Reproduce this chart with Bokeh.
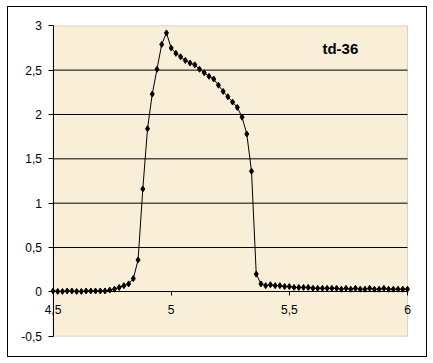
from bokeh.plotting import figure
from bokeh.models import Range1d, FixedTicker, Label, BoxAnnotation
from bokeh.embed import file_html
from bokeh.resources import INLINE

title_text = "td-36"

x_vals = [4.50, 4.52, 4.54, 4.56, 4.58, 4.60, 4.62, 4.64, 4.66, 4.68,
          4.70, 4.72, 4.74, 4.76, 4.78, 4.80, 4.82, 4.84, 4.86, 4.88,
          4.90, 4.92, 4.94, 4.96, 4.98, 5.00, 5.02, 5.04, 5.06, 5.08,
          5.10, 5.12, 5.14, 5.16, 5.18, 5.20, 5.22, 5.24, 5.26, 5.28,
          5.30, 5.32, 5.34, 5.36, 5.38, 5.40, 5.42, 5.44, 5.46, 5.48,
          5.50, 5.52, 5.54, 5.56, 5.58, 5.60, 5.62, 5.64, 5.66, 5.68,
          5.70, 5.72, 5.74, 5.76, 5.78, 5.80, 5.82, 5.84, 5.86, 5.88,
          5.90, 5.92, 5.94, 5.96, 5.98, 6.00]

y_vals = [0.01, 0.005, 0.005, 0.01, 0.01, 0.005, 0.005, 0.01, 0.01, 0.01,
          0.01, 0.01, 0.02, 0.03, 0.05, 0.07, 0.09, 0.15, 0.36, 1.16,
          1.84, 2.23, 2.51, 2.79, 2.92, 2.75, 2.69, 2.65, 2.61, 2.58,
          2.56, 2.51, 2.47, 2.43, 2.40, 2.33, 2.26, 2.20, 2.14, 2.08,
          1.97, 1.78, 1.36, 0.20, 0.09, 0.07, 0.08, 0.07, 0.07, 0.06,
          0.06, 0.05, 0.05, 0.05, 0.05, 0.04, 0.04, 0.04, 0.04, 0.04,
          0.04, 0.03, 0.04, 0.03, 0.04, 0.03, 0.03, 0.04, 0.03, 0.03,
          0.04, 0.03, 0.03, 0.03, 0.03, 0.03]

x_ticks = [4.5, 5.0, 5.5, 6.0]
x_tick_labels = ["4,5", "5", "5,5", "6"]
y_ticks = [-0.5, 0.0, 0.5, 1.0, 1.5, 2.0, 2.5, 3.0]
y_tick_labels = ["-0,5", "0", "0,5", "1", "1,5", "2", "2,5", "3"]

FONT = "Liberation Sans"

x_min, x_max = x_ticks[0], x_ticks[-1]
y_min, y_max = y_ticks[0], y_ticks[-1]

# frame covers the whole chart area; the plot area is drawn as a box inside it
p = figure(width=420, height=351, output_backend="svg", toolbar_location=None,
           x_range=Range1d(4.3117, 6.0889), y_range=Range1d(-0.7514, 3.2063),
           min_border=0, min_border_left=0, min_border_right=0,
           min_border_top=0, min_border_bottom=0)

p.background_fill_color = "white"
p.border_fill_color = "white"
p.outline_line_color = None
p.styles = {"border": "1px solid black", "margin-left": "7px",
            "margin-top": "6px"}
p.xgrid.visible = False
p.ygrid.visible = False

p.add_layout(BoxAnnotation(left=x_min, right=x_max, bottom=y_min, top=y_max,
                           fill_color="#F9EFD8", fill_alpha=1.0,
                           line_color="#808080", line_width=1,
                           level="underlay"))

# horizontal gridlines across the plot area only
grid_ys = [t for t in y_ticks if y_min < t < y_max and t != 0]
p.segment(x0=[x_min] * len(grid_ys), x1=[x_max] * len(grid_ys),
          y0=grid_ys, y1=grid_ys, line_color="black", line_width=1)

# y axis at x = 4.5
p.yaxis.fixed_location = x_min
p.yaxis.bounds = (y_min, y_max)
p.yaxis.ticker = FixedTicker(ticks=y_ticks)
p.yaxis.major_label_overrides = {t: s for t, s in zip(y_ticks, y_tick_labels)}
p.yaxis.axis_line_color = "black"
p.yaxis.major_tick_line_color = "black"
p.yaxis.major_tick_in = 0
p.yaxis.major_tick_out = 5
p.yaxis.minor_tick_line_color = None
p.yaxis.major_label_standoff = 6
p.yaxis.major_label_text_font = FONT
p.yaxis.major_label_text_font_size = "12px"
p.yaxis.major_label_text_color = "black"

# x axis at y = 0
p.xaxis.fixed_location = 0
p.xaxis.bounds = (x_min, x_max)
p.xaxis.ticker = FixedTicker(ticks=x_ticks)
p.xaxis.major_label_overrides = {t: s for t, s in zip(x_ticks, x_tick_labels)}
p.xaxis.axis_line_color = "black"
p.xaxis.major_tick_line_color = "black"
p.xaxis.major_tick_in = 0
p.xaxis.major_tick_out = 4
p.xaxis.minor_tick_line_color = None
p.xaxis.major_label_standoff = 9
p.xaxis.major_label_text_font = FONT
p.xaxis.major_label_text_font_size = "12px"
p.xaxis.major_label_text_color = "black"

p.line(x_vals, y_vals, line_color="black", line_width=1)
p.scatter(x_vals, y_vals, marker="diamond", size=6, fill_color="black",
          line_color="black")

p.add_layout(Label(x=5.64, y=2.74, text=title_text, text_font=FONT,
                   text_font_size="15px", text_font_style="bold",
                   text_baseline="middle", text_color="black"))

open("out.html", "w").write(file_html(p, INLINE))
